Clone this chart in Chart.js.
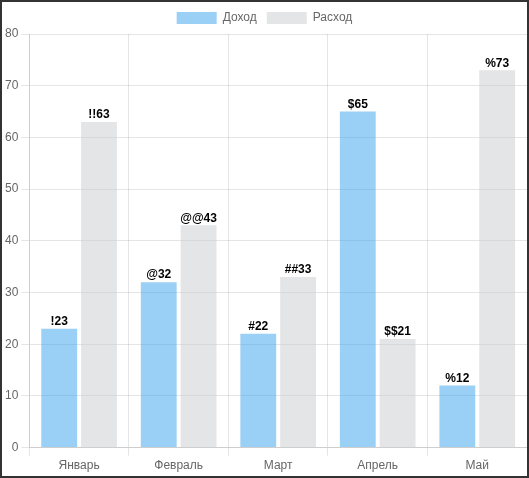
<!DOCTYPE html>
<html>
<head>
<meta charset="utf-8">
<script src="https://cdn.jsdelivr.net/npm/chart.js@4/dist/chart.umd.min.js"></script>
<style>
  html, body { margin: 0; padding: 0; background: #fff; }
  #wrap { width: 529px; height: 478px; box-sizing: border-box; border: 2px solid #333; position: relative; }
</style>
</head>
<body>
<div id="wrap"><canvas id="chart"></canvas></div>
<script>
const months = ['Январь', 'Февраль', 'Март', 'Апрель', 'Май'];
const income = [23, 32, 22, 65, 12];
const expense = [63, 43, 33, 21, 73];
const incomeTags = ['!', '@', '#', '$', '%'];
const expenseTags = ['!!', '@@', '##', '$$', '%'];

// draws "tag + value" above each bar
const barLabels = {
    id: 'barLabels',
    afterDatasetsDraw(chart) {
        const ctx = chart.ctx;
        ctx.save();
        ctx.font = 'bold 12px Arial, "Liberation Sans", sans-serif';
        ctx.fillStyle = '#000';
        ctx.textAlign = 'center';
        ctx.textBaseline = 'bottom';
        chart.data.datasets.forEach((ds, i) => {
            chart.getDatasetMeta(i).data.forEach((bar, j) => {
                ctx.fillText(ds.tags[j] + ds.data[j], bar.x, bar.y - 1);
            });
        });
        ctx.restore();
    }
};

new Chart(document.getElementById('chart'), {
    type: 'bar',
    data: {
        labels: months,
        datasets: [{
            label: 'Доход',
            data: income,
            tags: incomeTags,
            backgroundColor: 'rgba(54, 162, 235, 0.5)'
        }, {
            label: 'Расход',
            data: expense,
            tags: expenseTags,
            backgroundColor: 'rgba(201, 203, 207, 0.5)'
        }]
    },
    options: {
        responsive: true,
        maintainAspectRatio: false,
        animation: false,
        scales: {
            y: {
                beginAtZero: true,
                max: 80,
                ticks: { stepSize: 10, color: '#666' }
            },
            x: {
                ticks: { color: '#666' }
            }
        },
        plugins: {
            legend: {
                labels: { color: '#666' }
            },
            tooltip: { enabled: false }
        }
    },
    plugins: [barLabels]
});
</script>
</body>
</html>
